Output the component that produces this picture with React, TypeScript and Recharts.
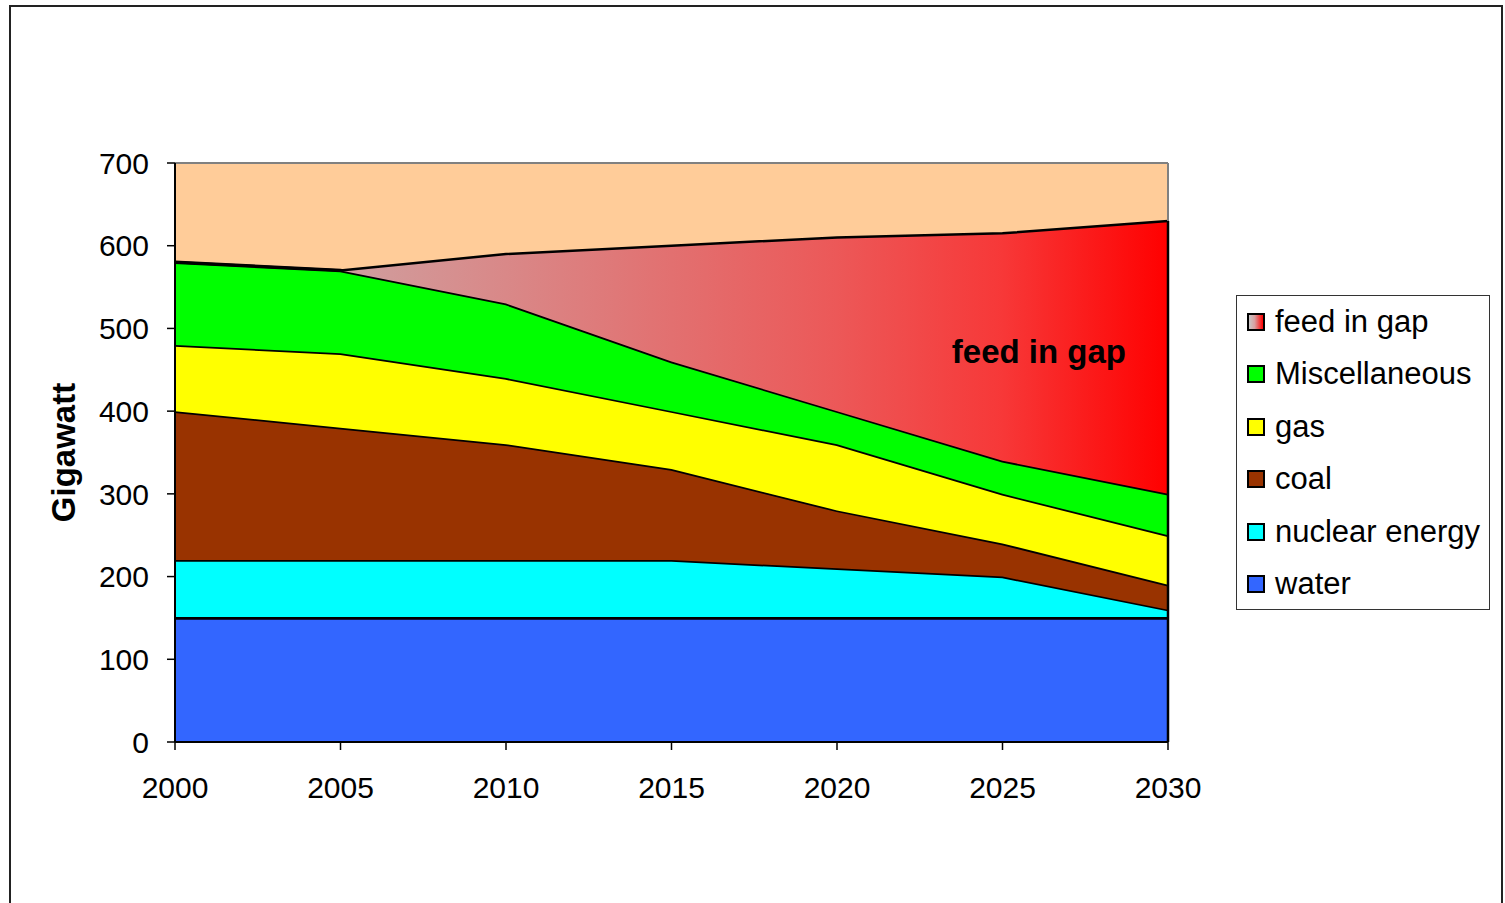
import React from 'react';
import { AreaChart, Area, XAxis, YAxis, CartesianGrid, ReferenceLine, ReferenceDot } from 'recharts';

const years = [2000, 2005, 2010, 2015, 2020, 2025, 2030];
const water = [150, 150, 150, 150, 150, 150, 150];
const nuclear = [70, 70, 70, 70, 60, 50, 10];
const coal = [180, 160, 140, 110, 70, 40, 30];
const gas = [80, 90, 80, 70, 80, 60, 60];
const misc = [100, 100, 90, 60, 40, 40, 50];
const gap = [0, 0, 60, 140, 210, 275, 330];
const yTicks = [0, 100, 200, 300, 400, 500, 600, 700];
const xTicks = [2000, 2005, 2010, 2015, 2020, 2025, 2030];
const annotation = { text: 'feed in gap', year: 2026.1, value: 472 };

const data = years.map((y, i) => ({
  year: y,
  water: water[i],
  nuclear: nuclear[i],
  coal: coal[i],
  gas: gas[i],
  misc: misc[i],
  gap: gap[i],
}));

const last = years.length - 1;
const lastYear = years[last];
const lastTotal = water[last] + nuclear[last] + coal[last] + gas[last] + misc[last] + gap[last];
const yMax = yTicks[yTicks.length - 1];

const legendItems = [
  { name: 'feed in gap', bg: 'linear-gradient(to right, #c8c8c8, #d8a0a0 40%, #ff0000)' },
  { name: 'Miscellaneous', bg: '#00FF00' },
  { name: 'gas', bg: '#FFFF00' },
  { name: 'coal', bg: '#993300' },
  { name: 'nuclear energy', bg: '#00FFFF' },
  { name: 'water', bg: '#3366FF' },
];

const FONT = '"Liberation Sans", Arial, sans-serif';
const SW = 3.5;

export default function App() {
  return (
    <div style={{ position: 'absolute', left: 0, top: 0, width: 1505, height: 903, overflow: 'hidden', fontFamily: FONT, background: '#fff' }}>
      <div style={{ position: 'absolute', left: 9, top: 5, width: 1494, height: 920, border: '2px solid #222', boxSizing: 'border-box' }} />
      <div style={{ position: 'absolute', left: 0, top: 0 }}>
        <AreaChart width={1505} height={903} data={data} margin={{ top: 163, right: 337, bottom: 101, left: 0 }}>
          <defs>
            <linearGradient id="gapGrad" x1="0" y1="0" x2="1" y2="0">
              <stop offset="0" stopColor="#cfa3a3" />
              <stop offset="0.167" stopColor="#cf9f9f" />
              <stop offset="0.333" stopColor="#d98888" />
              <stop offset="0.5" stopColor="#e27070" />
              <stop offset="0.667" stopColor="#ec5858" />
              <stop offset="0.833" stopColor="#f73838" />
              <stop offset="1" stopColor="#ff0000" />
            </linearGradient>
          </defs>
          <CartesianGrid horizontal={false} vertical={false} fill="#FFCC99" fillOpacity={1} />
          <XAxis
            dataKey="year"
            type="number"
            domain={[years[0], lastYear]}
            ticks={xTicks}
            interval={0}
            height={60}
            tickSize={8}
            tickMargin={27}
            axisLine={{ stroke: '#000', strokeWidth: 2 }}
            tickLine={{ stroke: '#000', strokeWidth: 1.5 }}
            tick={{ fill: '#000', fontSize: 30, fontFamily: FONT }}
          />
          <YAxis
            type="number"
            domain={[0, yMax]}
            ticks={yTicks}
            interval={0}
            width={175}
            tickSize={8}
            tickMargin={18}
            axisLine={{ stroke: '#000', strokeWidth: 2 }}
            tickLine={{ stroke: '#000', strokeWidth: 1.5 }}
            tick={{ fill: '#000', fontSize: 30, fontFamily: FONT }}
            label={{ value: 'Gigawatt', angle: -90, position: 'insideLeft', dx: 58, dy: 0, style: { textAnchor: 'middle', fontSize: 33, fontWeight: 'bold', fill: '#000', fontFamily: FONT } }}
          />
          <Area type="linear" dataKey="water" stackId="s" fill="#3366FF" fillOpacity={1} stroke="#000" strokeWidth={SW} isAnimationActive={false} />
          <Area type="linear" dataKey="nuclear" stackId="s" fill="#00FFFF" fillOpacity={1} stroke="#000" strokeWidth={SW} isAnimationActive={false} />
          <Area type="linear" dataKey="coal" stackId="s" fill="#993300" fillOpacity={1} stroke="#000" strokeWidth={SW} isAnimationActive={false} />
          <Area type="linear" dataKey="gas" stackId="s" fill="#FFFF00" fillOpacity={1} stroke="#000" strokeWidth={SW} isAnimationActive={false} />
          <Area type="linear" dataKey="misc" stackId="s" fill="#00FF00" fillOpacity={1} stroke="#000" strokeWidth={SW} isAnimationActive={false} />
          <Area type="linear" dataKey="gap" stackId="s" fill="url(#gapGrad)" fillOpacity={1} stroke="#000" strokeWidth={2.5} isAnimationActive={false} />
          <ReferenceLine y={water[0]} stroke="#000" strokeWidth={2} />
          <ReferenceLine y={yMax} stroke="#808080" strokeWidth={2} />
          <ReferenceLine segment={[{ x: lastYear, y: lastTotal }, { x: lastYear, y: yMax }]} stroke="#808080" strokeWidth={2} />
          <ReferenceLine segment={[{ x: lastYear, y: 0 }, { x: lastYear, y: lastTotal }]} stroke="#000" strokeWidth={2.5} />
          <ReferenceDot
            x={annotation.year}
            y={annotation.value}
            r={0}
            fill="none"
            stroke="none"
            label={{ value: annotation.text, position: 'center', fill: '#000', fontSize: 33, fontWeight: 'bold', fontFamily: FONT }}
          />
        </AreaChart>
      </div>
      <div style={{ position: 'absolute', left: 1236, top: 295, width: 254, height: 315, border: '1.5px solid #333', boxSizing: 'border-box', background: '#fff' }}>
        {legendItems.map((it, i) => (
          <div key={it.name} style={{ position: 'absolute', left: 10, top: 9 + i * 52.4, height: 34, display: 'flex', alignItems: 'center', whiteSpace: 'nowrap' }}>
            <span style={{ display: 'inline-block', width: 18, height: 18, boxSizing: 'border-box', border: '2px solid #000', background: it.bg, marginRight: 10 }} />
            <span style={{ fontSize: 31, color: '#000', fontFamily: FONT }}>{it.name}</span>
          </div>
        ))}
      </div>
    </div>
  );
}
